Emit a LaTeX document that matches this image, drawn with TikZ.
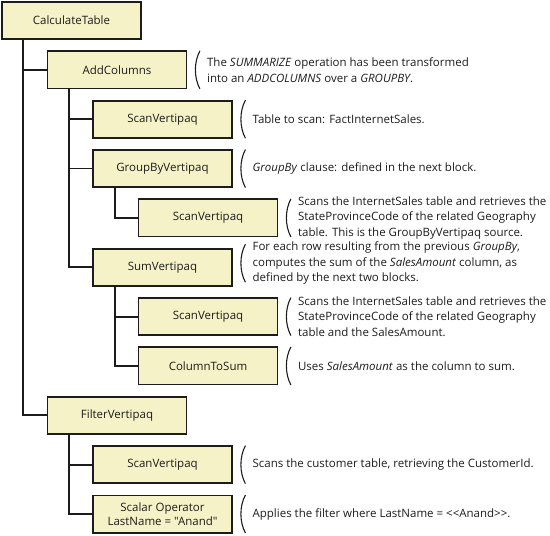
\documentclass[tikz,border=0pt]{standalone}
\usepackage{fontspec}
\setmainfont{Open Sans}[Ligatures=TeXOff]
\usepackage{tikz}
\usetikzlibrary{positioning}
\definecolor{boxfill}{RGB}{245,242,199}
\definecolor{ink}{RGB}{28,28,28}

\begin{document}
\begin{tikzpicture}[x=1pt,y=1pt,node distance=49.35pt and 45.5pt,on grid,
  font=\fontsize{11.5pt}{15.7pt}\selectfont,
  op/.style={draw=ink,fill=boxfill,line width=1.8pt,minimum width=139pt,
    minimum height=37.2pt,inner sep=2pt,align=center,text=ink},
  note/.style={on grid=false,inner sep=0pt,align=left,text=ink},
  link/.style={draw=ink,line width=1.8pt},
  elbow/.style={to path={|- (\tikztotarget)}},
  paren/.style={draw=ink,line width=1.1pt}]
  \useasboundingbox (0,0) rectangle (550,-536);
  % operator tree
  \node[op] (calc) at (71.5,-20.5) {CalculateTable};
  \node[op] (add) [below right = of calc] {AddColumns};
  \node[op] (scan1) [below right = of add] {ScanVertipaq};
  \node[op] (group) [below = of scan1] {GroupByVertipaq};
  \node[op] (gscan) [below right = of group] {ScanVertipaq};
  \node[op] (sum) [below left = of gscan] {SumVertipaq};
  \node[op] (sscan) [below right = of sum] {ScanVertipaq};
  \node[op] (colsum) [below = of sscan] {ColumnToSum};
  \node[op] (filter) [below left = 49.35pt and 91pt of colsum] {FilterVertipaq};
  \node[op] (fscan) [below right = of filter] {ScanVertipaq};
  \node[op] (scalar) [below = of fscan] {Scalar Operator\\[-1.5pt]LastName = "Anand"};
  % bus points
  \coordinate (calcbus) at ([xshift=22pt]calc.south west);
  \coordinate (addbus) at ([xshift=22pt]add.south west);
  \coordinate (groupbus) at ([xshift=23pt]group.south west);
  \coordinate (sumbus) at ([xshift=23pt]sum.south west);
  \coordinate (filterbus) at ([xshift=22pt]filter.south west);
  \path[link]
  (calcbus)
  edge [elbow] (add.west)
  edge [elbow] (filter.west)
  (addbus)
  edge [elbow] (scan1.west)
  edge [elbow] (group.west)
  edge [elbow] (sum.west)
  (groupbus)
  edge [elbow] (gscan.west)
  (sumbus)
  edge [elbow] (sscan.west)
  edge [elbow] (colsum.west)
  (filterbus)
  edge [elbow] (fscan.west)
  edge [elbow] (scalar.west)
  ;
  % comments
  \node[note] (nadd) [right = 19.5pt of add] {The \textit{SUMMARIZE} operation has been transformed\\into an \textit{ADDCOLUMNS} over a \textit{GROUPBY}.};
  \node[note] (nscan1) [right = 19.5pt of scan1] {Table to scan: FactInternetSales.};
  \node[note] (ngroup) [right = 19.5pt of group] {\textit{GroupBy} clause: defined in the next block.};
  \node[note] (ngscan) [right = 19.5pt of gscan] {Scans the InternetSales table and retrieves the\\StateProvinceCode of the related Geography\\table. This is the GroupByVertipaq source.};
  \node[note] (nsum) [right = 19.5pt of sum, yshift=4pt] {For each row resulting from the previous \textit{GroupBy},\\computes the sum of the \textit{SalesAmount} column, as\\defined by the next two blocks.};
  \node[note] (nsscan) [right = 19.5pt of sscan] {Scans the InternetSales table and retrieves the\\StateProvinceCode of the related Geography\\table and the SalesAmount.};
  \node[note] (ncolsum) [right = 19.5pt of colsum] {Uses \textit{SalesAmount} as the column to sum.};
  \node[note] (nfscan) [right = 19.5pt of fscan] {Scans the customer table, retrieving the CustomerId.};
  \node[note] (nscalar) [right = 19.5pt of scalar] {Applies the filter where LastName = <<Anand>>.};
  \foreach \n in {nadd,nscan1,ngroup,ngscan,nsum,nsscan,ncolsum,nfscan,nscalar}
    \draw[paren] ([shift={(-7,19)}]\n.west) .. controls ([shift={(-13,8)}]\n.west) and ([shift={(-13,-8)}]\n.west) .. ([shift={(-7,-19)}]\n.west);
\end{tikzpicture}
\end{document}
